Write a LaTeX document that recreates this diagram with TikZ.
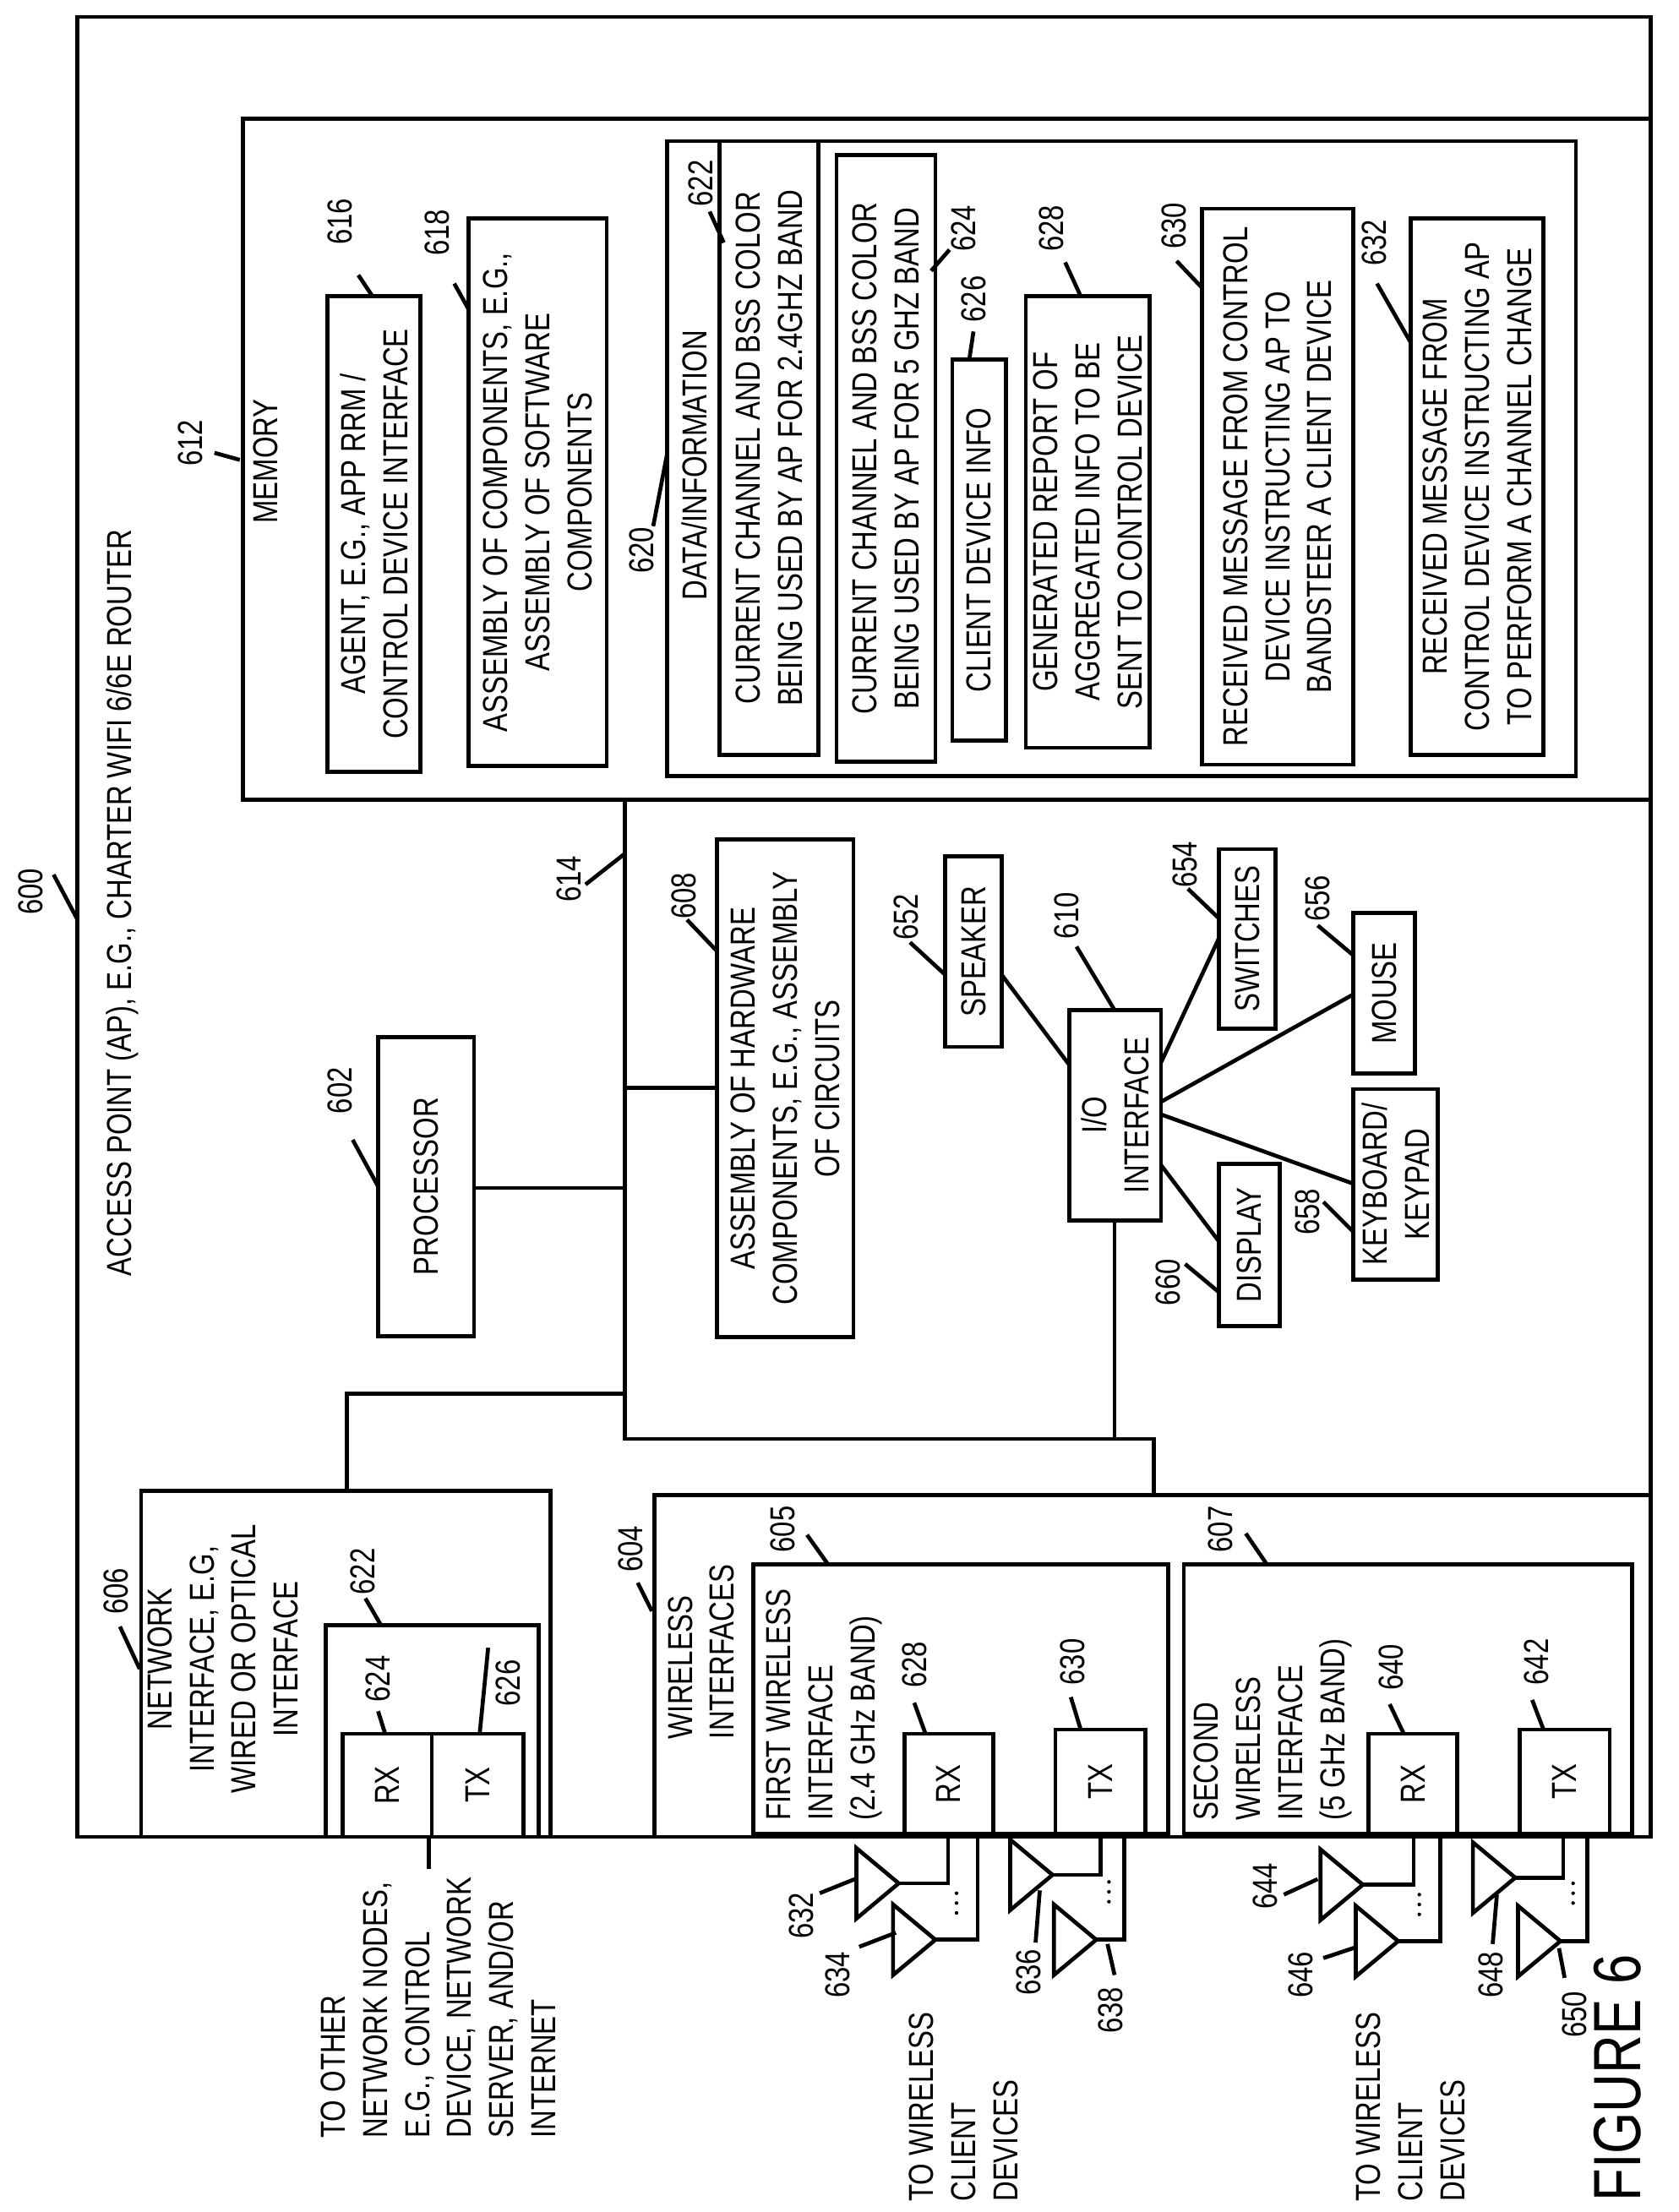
\documentclass[tikz,border=0pt]{standalone}
\usepackage{fontspec}
\setmainfont[FakeStretch=0.8]{Liberation Sans}
\tikzset{
  box/.style={draw, line width=1.6pt, rotate=90, inner sep=1pt, align=center},
  txt/.style={rotate=90, inner sep=0pt, align=center},
  num/.style={rotate=90, inner sep=0pt},
  wire/.style={line width=1.6pt},
}
% box from image corners (x1,y1)-(x2,y2), text turned up the page
\newcommand\rbox[6]{\node[box, minimum width={(#5-#3)*0.02cm}, minimum height={(#4-#2)*0.02cm}] (#1) at ({(#2+#4)/2},{(#3+#5)/2}) {#6};}
% antenna: base x, top y, feed x
\newcommand\antenna[3]{\draw[wire] (#1,#2) -- (#1,#2+50) -- (#1+30,#2+25) -- cycle;
  \draw[wire] (#1+30,#2+25) -- (#3,#2+25) -- (#3,1300);}
\begin{document}
\begin{tikzpicture}[x=0.02cm, y=-0.02cm, line width=1.6pt, font=\fontsize{14}{17}\selectfont]
\useasboundingbox (0,0) rectangle (1190,1568);
% outer frame
\draw[wire] (55,12) rectangle (1170,1302);
\node[txt] (title) at (87,640) {ACCESS POINT (AP), E.G., CHARTER WIFI 6/6E ROUTER};
\node[num] (n600) at (22,632) {600};
\draw[wire] (38,620) -- (55,652);

% memory
\draw[wire] (172,84) rectangle (1170,567);
\node[txt] (mem) at (188,327) {MEMORY};
\node[num] (n612) at (135,314) {612};
\draw[wire] (152,321) -- (170,326);
\rbox{agent}{232}{210}{298}{547}{AGENT, E.G., APP RRM /\\CONTROL DEVICE INTERFACE}
\node[num] (n616) at (241,157) {616};
\draw[wire] (254,195) -- (264,210);
\rbox{swasm}{332}{155}{430}{543}{ASSEMBLY OF COMPONENTS, E.G.,\\ASSEMBLY OF SOFTWARE\\COMPONENTS}
\node[num] (n618) at (310,165) {618};
\draw[wire] (322,201) -- (332,219);

% data / information
\draw[wire] (473,100) rectangle (1117,550);
\node[txt] (data) at (492,330) {DATA/INFORMATION};
\node[num] (n620) at (455,390) {620};
\draw[wire] (463,373) -- (473,321);
\rbox{d622}{510}{100}{580}{535}{CURRENT CHANNEL AND BSS COLOR\\BEING USED BY AP FOR 2.4GHZ BAND}
\node[num] (n622) at (497,130) {622};
\draw[wire] (503,150) -- (513,172);
\rbox{d624}{593}{110}{663}{540}{CURRENT CHANNEL AND BSS COLOR\\BEING USED BY AP FOR 5 GHZ BAND}
\node[num] (n624) at (683,162) {624};
\draw[wire] (673,177) -- (660,192);
\rbox{d626}{675}{255}{713}{525}{CLIENT DEVICE INFO}
\node[num] (n626) at (690,212) {626};
\draw[wire] (690,235) -- (687,255);
\rbox{d628}{727}{210}{815}{530}{GENERATED REPORT OF\\AGGREGATED INFO TO BE\\SENT TO CONTROL DEVICE}
\node[num] (n628) at (745,162) {628};
\draw[wire] (755,186) -- (766,210);
\rbox{d630}{852}{148}{959}{542}{RECEIVED MESSAGE FROM CONTROL\\DEVICE INSTRUCTING AP TO\\BANDSTEER A CLIENT DEVICE}
\node[num] (n630) at (832,160) {630};
\draw[wire] (834,185) -- (852,204);
\rbox{d632}{1000}{155}{1094}{535}{RECEIVED MESSAGE FROM\\CONTROL DEVICE INSTRUCTING AP\\TO PERFORM A CHANNEL CHANGE}
\node[num] (n632) at (974,172) {632};
\draw[wire] (976,201) -- (1000,243);

% bus
\draw[wire] (443,567) -- (443,1020) -- (818,1020) -- (818,1058);
\draw[wire] (443,988) -- (246,988) -- (246,1057);
\node[num] (n614) at (403,623) {614};
\draw[wire] (415,627) -- (443,605);
\rbox{proc}{268}{735}{336}{947}{PROCESSOR}
\draw[wire] (336,842) -- (443,842);
\node[num] (n602) at (241,773) {602};
\draw[wire] (250,808) -- (268,841);
\rbox{hwasm}{508}{595}{605}{948}{ASSEMBLY OF HARDWARE\\COMPONENTS, E.G., ASSEMBLY\\OF CIRCUITS}
\draw[wire] (443,771) -- (508,771);
\node[num] (n608) at (485,635) {608};
\draw[wire] (487,652) -- (508,674);

% I/O
\rbox{io}{758}{716}{823}{865}{I/O\\INTERFACE}
\node[num] (n610) at (756,649) {610};
\draw[wire] (763,671) -- (790,716);
\draw[wire] (790,865) -- (790,1020);
\rbox{spk}{670}{607}{710}{742}{SPEAKER}
\node[num] (n652) at (642,650) {652};
\draw[wire] (645,668) -- (670,691);
\draw[wire] (710,691) -- (758,755);
\rbox{sw}{864}{602}{904}{729}{SWITCHES}
\node[num] (n654) at (840,613) {654};
\draw[wire] (842,630) -- (864,651);
\draw[wire] (823,753) -- (864,665);
\rbox{mouse}{959}{647}{1003}{761}{MOUSE}
\node[num] (n656) at (934,637) {656};
\draw[wire] (934,656) -- (959,677);
\draw[wire] (823,781) -- (959,705);
\rbox{kbd}{959}{772}{1019}{907}{KEYBOARD/\\KEYPAD}
\node[num] (n658) at (927,859) {658};
\draw[wire] (938,852) -- (959,873);
\draw[wire] (823,790) -- (959,839);
\rbox{disp}{864}{825}{907}{940}{DISPLAY}
\node[num] (n660) at (828,909) {660};
\draw[wire] (840,896) -- (864,916);
\draw[wire] (823,826) -- (864,880);

% network interface
\draw[wire] (100,1057) rectangle (390,1302);
\node[txt] (net) at (158,1176) {NETWORK\\INTERFACE, E.G,\\WIRED OR OPTICAL\\INTERFACE};
\node[num] (n606) at (82,1128) {606};
\draw[wire] (85,1153) -- (99,1183);
\draw[wire] (231,1152) rectangle (382,1302);
\node[num] (n622b) at (257,1114) {622};
\draw[wire] (259,1133) -- (270,1152);
\rbox{nrx}{243}{1229}{306}{1302}{RX}
\rbox{ntx}{306}{1229}{371}{1302}{TX}
\node[num] (n624b) at (268,1190) {624};
\draw[wire] (268,1213) -- (273,1229);
\node[num] (n626b) at (360,1193) {626};
\draw[wire] (346,1168) -- (340,1229);
\draw[wire] (304,1302) -- (304,1325);
\node[txt, anchor=north west, align=left] (nettxt) at (226,1517) {TO OTHER\\NETWORK NODES,\\E.G., CONTROL\\DEVICE, NETWORK\\SERVER, AND/OR\\INTERNET};

% wireless interfaces
\draw[wire] (464,1060) rectangle (1170,1302);
\node[txt, anchor=north west, align=left] (wl) at (472,1234) {WIRELESS\\INTERFACES};
\node[num] (n604) at (447,1098) {604};
\draw[wire] (452,1122) -- (462,1142);
\draw[wire] (534,1109) rectangle (828,1300);
\node[txt, anchor=north west, align=left] (wl1) at (542,1292) {FIRST WIRELESS\\INTERFACE\\(2.4 GHz BAND)};
\node[num] (n605) at (555,1084) {605};
\draw[wire] (572,1088) -- (587,1109);
\rbox{rx1}{641}{1229}{704}{1300}{RX}
\node[num] (n628b) at (648,1180) {628};
\draw[wire] (648,1207) -- (656,1229);
\rbox{tx1}{748}{1226}{812}{1300}{TX}
\node[num] (n630b) at (760,1178) {630};
\draw[wire] (759,1203) -- (766,1226);
\draw[wire] (839,1109) rectangle (1157,1300);
\node[txt, anchor=north west, align=left] (wl2) at (845,1292) {SECOND\\WIRELESS\\INTERFACE\\(5 GHz BAND)};
\node[num] (n607) at (865,1084) {607};
\draw[wire] (883,1087) -- (898,1109);
\rbox{rx2}{970}{1229}{1033}{1300}{RX}
\node[num] (n640) at (986,1182) {640};
\draw[wire] (985,1208) -- (995,1229);
\rbox{tx2}{1077}{1226}{1141}{1300}{TX}
\node[num] (n642) at (1089,1178) {642};
\draw[wire] (1086,1205) -- (1094,1226);

% antennas
\antenna{607}{1310}{672}
\antenna{633}{1350}{693}
\antenna{716}{1304}{780}
\antenna{747}{1350}{797}
\antenna{936}{1311}{1002}
\antenna{961}{1351}{1021}
\antenna{1044}{1306}{1108}
\antenna{1076}{1351}{1125}
\foreach \dx/\dy in {678/1342, 786/1334, 1006/1343, 1115/1335}
  \foreach \k in {0,7,14} \fill (\dx,\dy+\k) circle (1.3);
\node[num] (n632b) at (568,1358) {632};
\draw[wire] (581,1342) -- (606,1332);
\node[num] (n634) at (594,1400) {634};
\draw[wire] (609,1380) -- (635,1370);
\node[num] (n636) at (729,1398) {636};
\draw[wire] (734,1377) -- (737,1340);
\node[num] (n638) at (787,1425) {638};
\draw[wire] (790,1400) -- (785,1378);
\node[num] (n644) at (897,1337) {644};
\draw[wire] (910,1343) -- (934,1332);
\node[num] (n646) at (922,1400) {646};
\draw[wire] (938,1388) -- (962,1380);
\node[num] (n648) at (1057,1400) {648};
\draw[wire] (1058,1378) -- (1061,1343);
\node[num] (n650) at (1116,1428) {650};
\draw[wire] (1109,1402) -- (1105,1381);
\node[txt, anchor=north west, align=left] (cl1) at (643,1562) {TO WIRELESS\\CLIENT\\DEVICES};
\node[txt, anchor=north west, align=left] (cl2) at (960,1562) {TO WIRELESS\\CLIENT\\DEVICES};
\node[txt, anchor=north west, font=\fontsize{27}{30}\selectfont] (fig) at (1128,1562) {FIGURE 6};
\end{tikzpicture}
\end{document}
